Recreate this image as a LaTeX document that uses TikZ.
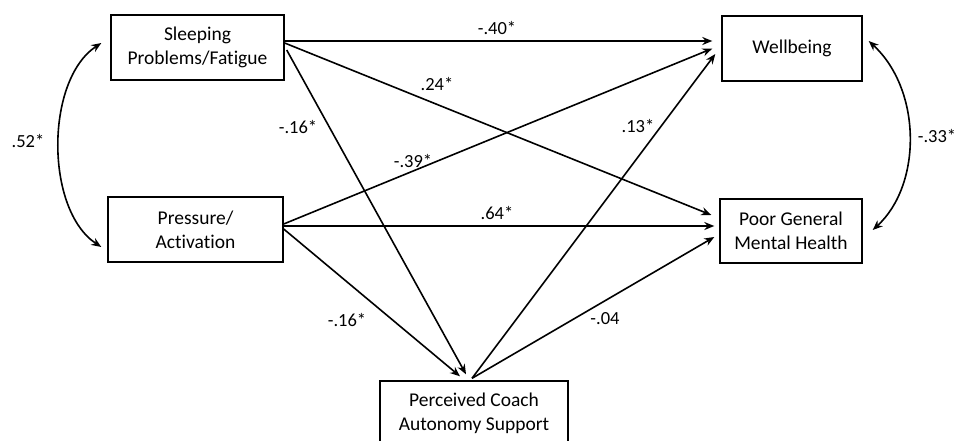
\documentclass[tikz,border=0pt]{standalone}
\usepackage{fontspec}
\setmainfont[Ligatures=NoCommon]{Carlito}
\usetikzlibrary{arrows.meta}
\begin{document}
\begin{tikzpicture}[x=1pt,y=-1pt,
  box/.style={draw,line width=1.4pt,rectangle,align=center,inner sep=0pt,
    font=\fontsize{19.5}{24}\selectfont},
  lbl/.style={font=\fontsize{18.5}{22}\selectfont,inner sep=0pt},
  arr/.style={line width=1.6pt,-{Stealth[length=10pt,width=8pt]}},
  darr/.style={line width=1.6pt,{Stealth[length=10pt,width=8pt]}-{Stealth[length=10pt,width=8pt]}}]
\useasboundingbox (0,0) rectangle (957,440);
\node[box,minimum width=173pt,minimum height=65pt] (sl) at (197.5,47.5) {Sleeping\\Problems/Fatigue};
\node[box,minimum width=175pt,minimum height=65pt] (pr) at (195.5,229.5) {Pressure/\\Activation};
\node[box,minimum width=140pt,minimum height=65pt] (wb) at (792,48.5) {Wellbeing};
\node[box,minimum width=142pt,minimum height=64pt] (pg) at (791,231) {Poor General\\Mental Health};
\node[box,minimum width=188pt,minimum height=64pt] (pc) at (474,413) {Perceived Coach\\Autonomy Support};
% paths
\draw[arr] ([yshift=6.5pt]sl.east) -- ([xshift=-9pt,yshift=7.5pt]wb.west);
\draw[arr] ([yshift=4.5pt]sl.east) -- ([xshift=-8pt,yshift=16pt]pg.west);
\draw[arr] ([xshift=2pt,yshift=-2.5pt]sl.east) -- ([xshift=-8pt,yshift=6pt]pc.north);
\draw[arr] ([yshift=5.5pt]pr.east) -- ([xshift=-9pt]wb.west);
\draw[arr] ([yshift=3.5pt]pr.east) -- ([xshift=-5pt,yshift=5pt]pg.west);
\draw[arr] ([yshift=0.5pt]pr.east) -- ([xshift=-14pt,yshift=4pt]pc.north);
\draw[arr] ([xshift=-2pt,yshift=2pt]pc.north) -- ([xshift=-6pt,yshift=-5.5pt]wb.west);
\draw[arr] ([xshift=-2pt,yshift=2pt]pc.north) -- ([xshift=-5pt,yshift=-6pt]pg.west);
% correlations
\draw[darr] ([xshift=-9pt,yshift=4.5pt]sl.west) .. controls (45,80) and (45,210) .. ([xshift=-6pt,yshift=-17.5pt]pr.west);
\draw[darr] ([xshift=6pt,yshift=7.5pt]wb.east) .. controls (922,90) and (922,185) .. ([xshift=10pt,yshift=1pt]pg.east);
% labels
\node[lbl] (l1) at (497,28) {-.40*};
\node[lbl] (l2) at (437,84) {.24*};
\node[lbl] (l3) at (298,127) {-.16*};
\node[lbl] (l4) at (413,161) {-.39*};
\node[lbl] (l5) at (28,141) {.52*};
\node[lbl] (l6) at (497,213) {.64*};
\node[lbl] (l7) at (638,126) {.13*};
\node[lbl] (l8) at (937,136) {-.33*};
\node[lbl] (l9) at (347,320) {-.16*};
\node[lbl] (l10) at (605,319) {-.04};
\end{tikzpicture}
\end{document}
